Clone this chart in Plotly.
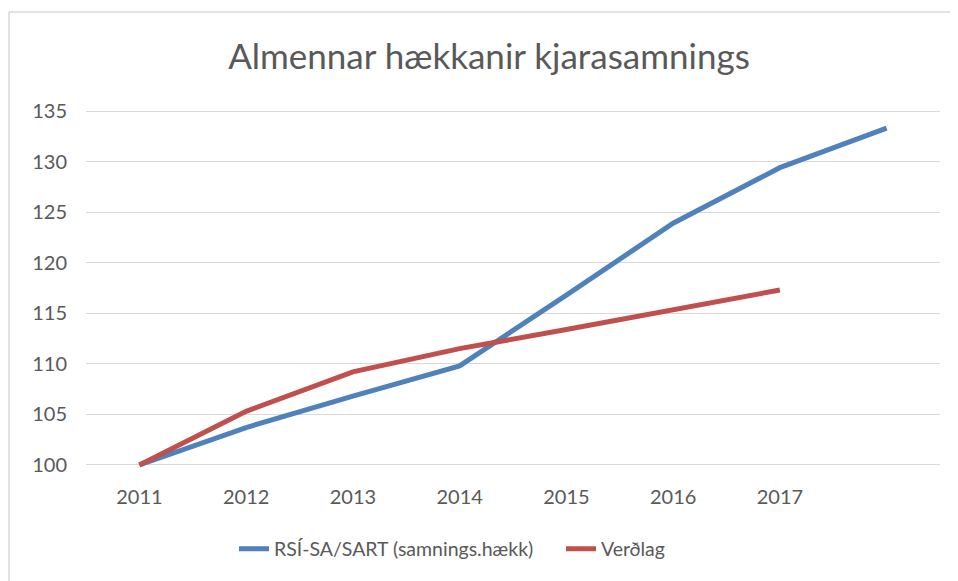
import plotly.graph_objects as go

years = [2011, 2012, 2013, 2014, 2015, 2016, 2017, 2018]
tick_years = [2011, 2012, 2013, 2014, 2015, 2016, 2017]
tick_labels = ["2011", "2012", "2013", "2014", "2015", "2016", "2017"]
rsi_values = [100, 103.7, 106.8, 109.8, 116.8, 123.9, 129.4, 133.3]
verdlag_values = [100, 105.3, 109.2, 111.5, 113.4, 115.3, 117.3]

FONT = "Lato, 'Open Sans', sans-serif"
GRAY = "#595959"
GRID = "#D9D9D9"

OFF = 8  # page body margin
W, H = 958 - OFF, 581 - OFF
L, R, T, B = 86 - OFF, 940 - OFF, 108 - OFF, 470 - OFF
pw, ph = R - L, B - T

def px(x):
    return (x - OFF - L) / pw

def py(y):
    return (B - (y - OFF)) / ph

fig = go.Figure()
fig.add_trace(go.Scatter(
    x=years, y=rsi_values, mode="lines",
    name="RSÍ-SA/SART (samnings.hækk)",
    line=dict(color="#4F81BD", width=5),
))
fig.add_trace(go.Scatter(
    x=years[:len(verdlag_values)], y=verdlag_values, mode="lines",
    name="Verðlag",
    line=dict(color="#C0504D", width=5),
))

fig.update_layout(
    width=W, height=H,
    margin=dict(l=L, r=W - R, t=T, b=H - B, autoexpand=False),
    paper_bgcolor="white", plot_bgcolor="white",
    font=dict(family=FONT, color=GRAY, size=20),
    title=dict(
        text="Almennar hækkanir kjarasamnings",
        font=dict(family=FONT, size=35, color=GRAY),
        x=(489 - OFF) / W, xref="container", xanchor="center",
        y=1 - (57 - OFF) / H, yref="container", yanchor="middle",
    ),
    xaxis=dict(
        range=[2010.5, 2018.5],
        tickmode="array", tickvals=tick_years, ticktext=tick_labels,
        showgrid=False, zeroline=False, showline=False,
        ticks="", ticklabelstandoff=13,
        tickfont=dict(size=20, color=GRAY, family=FONT),
    ),
    yaxis=dict(
        range=[99.5, 135.3],
        tickmode="array", tickvals=[100, 105, 110, 115, 120, 125, 130, 135],
        showgrid=True, gridcolor=GRID, gridwidth=1,
        zeroline=False, showline=False, ticks="", ticklabelstandoff=18,
        tickfont=dict(size=20, color=GRAY, family=FONT),
    ),
    legend=dict(
        orientation="h", x=px(234), xanchor="left",
        y=py(549), yanchor="middle",
        font=dict(size=19.5, color=GRAY, family=FONT),
        itemwidth=30, entrywidth=282, entrywidthmode="pixels",
    ),
    showlegend=True,
    shapes=[
        dict(type="line", xref="paper", yref="paper",
             x0=px(9), x1=px(9), y0=py(581), y1=py(12),
             line=dict(color=GRID, width=1.5)),
        dict(type="line", xref="paper", yref="paper",
             x0=px(9), x1=px(958), y0=py(12), y1=py(12),
             line=dict(color=GRID, width=1.5)),
    ],
)

fig.write_html("out.html")
